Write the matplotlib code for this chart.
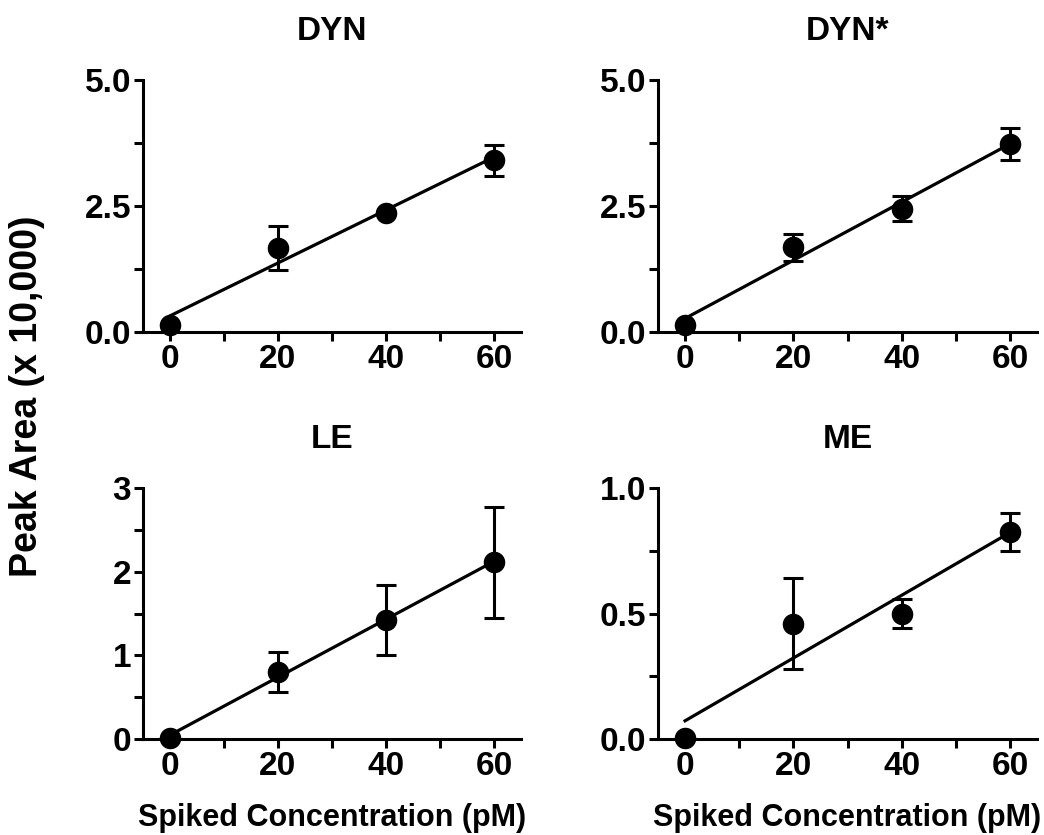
import numpy as np
import matplotlib
matplotlib.use("Agg")
import matplotlib.pyplot as plt
from matplotlib.ticker import MultipleLocator, FormatStrFormatter

plt.rcParams['font.family'] = ['Liberation Sans', 'DejaVu Sans']
plt.rcParams['font.weight'] = 'bold'

# spiked concentrations (pM)
conc = [0, 20, 40, 60]

# peak area (x 10,000), mean and error bar (+/-)
dyn_mean = [0.14, 1.67, 2.36, 3.41]
dyn_err = [0.0, 0.43, 0.0, 0.31]

dynstar_mean = [0.14, 1.68, 2.45, 3.73]
dynstar_err = [0.0, 0.27, 0.25, 0.32]

le_mean = [0.01, 0.80, 1.42, 2.11]
le_err = [0.0, 0.24, 0.42, 0.66]

me_mean = [0.005, 0.46, 0.50, 0.825]
me_err = [0.0, 0.18, 0.058, 0.075]

panels = [
    ("DYN", dyn_mean, dyn_err, 5.0, 2.5, "%.1f"),
    ("DYN*", dynstar_mean, dynstar_err, 5.0, 2.5, "%.1f"),
    ("LE", le_mean, le_err, 3, 1, "%d"),
    ("ME", me_mean, me_err, 1.0, 0.5, "%.1f"),
]

# axes boxes in pixels: left, top, right, bottom
W, H = 1044, 835
boxes = [(143, 80, 521, 332), (658, 80, 1037, 332),
         (143, 488, 521, 739), (658, 488, 1037, 739)]

fig = plt.figure(figsize=(W / 100, H / 100), dpi=100)


def draw_panel(box, title, y, yerr, ymax, ystep, fmt):
    l, t, r, b = box
    ax = fig.add_axes([l / W, 1 - b / H, (r - l) / W, (b - t) / H])
    ax.errorbar(conc, y, yerr=yerr, fmt='o', color='black', markersize=14.5,
                elinewidth=2.2, capsize=7.5, capthick=2.2, clip_on=False, zorder=3)
    # linear regression line over the data range
    slope, icpt = np.polyfit(conc, y, 1)
    xs = np.array([conc[0], conc[-1]])
    ax.plot(xs, slope * xs + icpt, color='black', lw=2.3, zorder=2)

    ax.set_xlim(-5, 65)
    ax.set_ylim(0, ymax)
    ax.xaxis.set_major_locator(MultipleLocator(20))
    ax.xaxis.set_minor_locator(MultipleLocator(10))
    ax.yaxis.set_major_locator(MultipleLocator(ystep))
    ax.yaxis.set_minor_locator(MultipleLocator(ystep / 2))
    ax.yaxis.set_major_formatter(FormatStrFormatter(fmt))

    for side in ['top', 'right']:
        ax.spines[side].set_visible(False)
    for side in ['left', 'bottom']:
        ax.spines[side].set_linewidth(2.2)
    ax.tick_params(which='both', direction='out', length=6.5, width=2.2,
                   labelsize=24, pad=2)
    for lab in ax.get_xticklabels() + ax.get_yticklabels():
        lab.set_fontweight('bold')
    ax.set_title(title, fontsize=24, fontweight='bold', pad=29)
    return ax


for box, (title, y, yerr, ymax, ystep, fmt) in zip(boxes, panels):
    draw_panel(box, title, y, yerr, ymax, ystep, fmt)

# shared axis labels
for l, t, r, b in boxes[2:]:
    fig.text((l + r) / 2 / W, 9 / H, "Spiked Concentration (pM)",
             ha='center', va='baseline', fontsize=22, fontweight='bold')
fig.text(27.5 / W, 1 - 396 / H, "Peak Area (x 10,000)", rotation=90,
         ha='center', va='center', fontsize=27, fontweight='bold')

fig.savefig("out.png", dpi=100)
